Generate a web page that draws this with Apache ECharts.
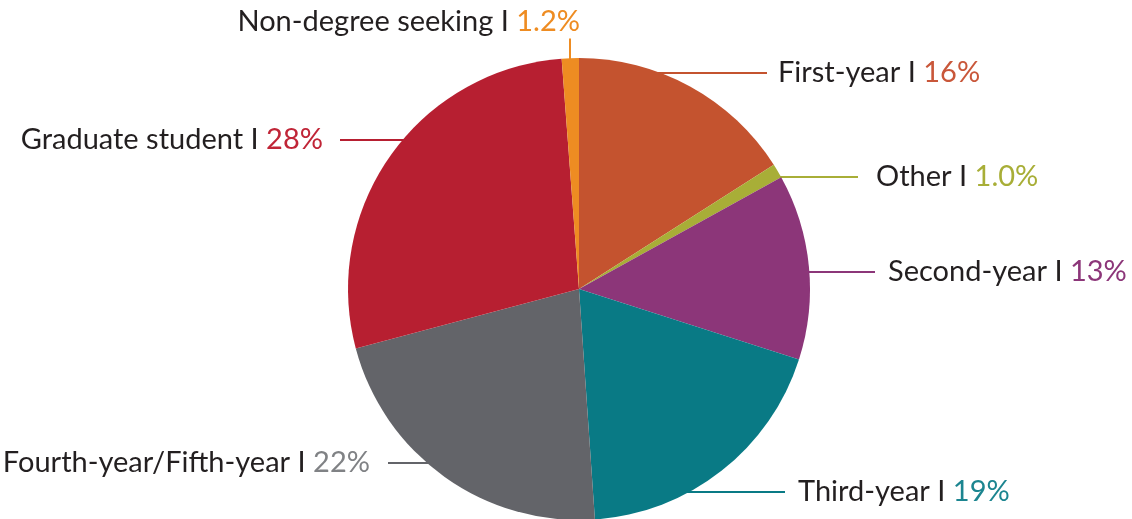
<!DOCTYPE html>
<html>
<head>
<meta charset="utf-8">
<script src="https://cdn.jsdelivr.net/npm/echarts@6/dist/echarts.min.js"></script>
<style>
  html, body { margin: 0; padding: 0; background: #fff; }
  #chart { width: 1132px; height: 519px; }
</style>
</head>
<body>
<div id="chart"></div>
<script>
// data
const categories = ['First-year', 'Other', 'Second-year', 'Third-year', 'Fourth-year/Fifth-year', 'Graduate student', 'Non-degree seeking']
const shares = [16, 1.0, 13, 19, 22, 28, 1.2]
const shareLabels = ['16%', '1.0%', '13%', '19%', '22%', '28%', '1.2%']

// styling
const sliceColors = ['#C4532F', '#A8AE37', '#8C3679', '#097A85', '#636469', '#B71F31', '#EE8C22']
const pctColors = ['#C9573A', '#A8AE37', '#8C3679', '#1C8590', '#808285', '#C02537', '#EE8C22']

// label anchors: [x, y, side, gap]
const labelPos = [
  [778, 73, 'right', 11],
  [876, 177, 'right', 18],
  [888, 272, 'right', 13],
  [798, 492, 'right', 13],
  [370, 463, 'left', 18],
  [323, 140, 'left', 17],
  [580, 22, 'top', 8]
]

const CX = 579, CY = 289, R = 231
const FONT = 'Lato'
const FSIZE = 29

const chart = echarts.init(document.getElementById('chart'))

const edgeX = (y, side) => {
  const dy = y - CY
  const dx = Math.sqrt(Math.max(R * R - dy * dy, 0))
  return side === 'left' ? CX - dx : CX + dx
}

chart.setOption({
  animation: false,
  series: [
    {
      type: 'pie',
      center: [CX, CY],
      radius: R,
      startAngle: 90,
      clockwise: true,
      avoidLabelOverlap: false,
      silent: true,
      label: {
        show: true,
        position: 'outside',
        fontFamily: FONT,
        fontSize: FSIZE,
        color: '#231F20'
      },
      labelLine: {
        show: true,
        length: 10,
        length2: 10,
        lineStyle: { width: 2 }
      },
      labelLayout: (params) => {
        const p = labelPos[params.dataIndex]
        const side = p[2]
        const h = params.labelRect.height
        if (side === 'right') {
          return {
            x: p[0], y: p[1], align: 'left', verticalAlign: 'middle',
            labelLinePoints: [[edgeX(p[1], 'right') - 3, p[1]], [p[0] - p[3], p[1]], [p[0] - p[3], p[1]]]
          }
        }
        if (side === 'left') {
          return {
            x: p[0], y: p[1], align: 'right', verticalAlign: 'middle',
            labelLinePoints: [[edgeX(p[1], 'left') + 3, p[1]], [p[0] + p[3], p[1]], [p[0] + p[3], p[1]]]
          }
        }
        const lx = 570
        const top = CY - Math.sqrt(R * R - (lx - CX) * (lx - CX))
        return {
          x: p[0], y: p[1], align: 'right', verticalAlign: 'middle',
          labelLinePoints: [[lx, top + 2], [lx, p[1] + h / 2 + p[3] - 6], [lx, p[1] + h / 2 + p[3] - 6]]
        }
      },
      data: categories.map((name, i) => ({
        name: name,
        value: shares[i],
        itemStyle: { color: sliceColors[i] },
        label: {
          formatter: '{n|' + name + ' I }{p|' + shareLabels[i] + '}',
          rich: {
            n: { fontFamily: FONT, fontSize: FSIZE, color: '#231F20' },
            p: { fontFamily: FONT, fontSize: FSIZE, color: pctColors[i] }
          }
        },
        labelLine: { lineStyle: { color: sliceColors[i] } }
      }))
    }
  ]
})
</script>
</body>
</html>
